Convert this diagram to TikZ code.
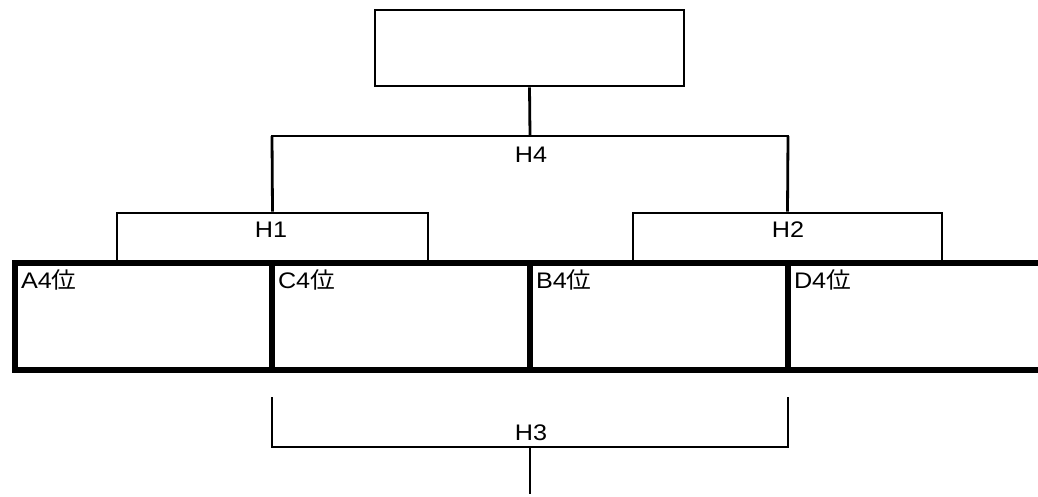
\documentclass[tikz,border=0pt]{standalone}
\usepackage{fontspec}
\setmainfont{Liberation Sans}[FakeStretch=1.12]
\newfontfamily\cjk{Noto Sans CJK JP}[FakeStretch=1.1]
\begin{document}
\begin{tikzpicture}[x=1pt,y=-1pt,
  lnthin/.style={line width=2.8pt},
  lnthick/.style={line width=5.5pt},
  boxst/.style={draw,lnthin,inner sep=0pt},
  lbl/.style={inner sep=0pt,font=\fontsize{22.5}{26}\selectfont},
  cellst/.style={inner sep=0pt,minimum height=107pt},
  celltxt/.style={inner sep=0pt,anchor=base west,font=\fontsize{22.5}{26}\selectfont}]
\useasboundingbox (0,0) rectangle (1038,497);
% top box
\node[boxst,minimum width=309pt,minimum height=76pt] (top) at (529.5,48) {};
% H4 bracket
\coordinate (j4) at (530,136);
\coordinate (j4l) at (272,136);
\coordinate (j4r) at (788,136);
\draw[lnthin] (top.south) -- (j4);
\draw[lnthin,line cap=rect] (j4l) -- (j4r);
\node[lbl] (h4) at (531,155) {H4};
% H1, H2 boxes
\node[boxst,minimum width=311pt,minimum height=50pt] (h1) at (272.5,238) {};
\node[boxst,minimum width=309pt,minimum height=50pt] (h2) at (787.5,238) {};
\draw[lnthin] (j4l) -- (h1.north);
\draw[lnthin] (j4r) -- (h2.north);
\node[lbl] (h1l) at (271,230) {H1};
\node[lbl] (h2l) at (788,230) {H2};
% cells
\node[cellst,minimum width=257pt] (ca) at (143.5,316.5) {};
\node[cellst,minimum width=258pt] (cc) at (401,316.5) {};
\node[cellst,minimum width=258pt] (cb) at (659,316.5) {};
\node[cellst,minimum width=250pt] (cd) at (913,316.5) {};
\coordinate (fl) at (12,263);
\coordinate (fr) at (1038,263);
\coordinate (bl) at (12,370);
\coordinate (br) at (1038,370);
\draw[lnthick] (fl) -- (fr);
\draw[lnthick] (bl) -- (br);
\draw[lnthick] (ca.north west) -- (ca.south west);
\draw[lnthick] (cc.north west) -- (cc.south west);
\draw[lnthick] (cb.north west) -- (cb.south west);
\draw[lnthick] (cd.north west) -- (cd.south west);
\node[celltxt] (ta) at ([xshift=6pt,yshift=-26pt]ca.north west) {A4{\cjk 位}};
\node[celltxt] (tc) at ([xshift=6pt,yshift=-26pt]cc.north west) {C4{\cjk 位}};
\node[celltxt] (tb) at ([xshift=6pt,yshift=-26pt]cb.north west) {B4{\cjk 位}};
\node[celltxt] (td) at ([xshift=6pt,yshift=-26pt]cd.north west) {D4{\cjk 位}};
% H3 bracket
\coordinate (h3lt) at (272,397);
\coordinate (h3lb) at (272,447);
\coordinate (h3rt) at (788,397);
\coordinate (h3rb) at (788,447);
\coordinate (h3m) at (530,447);
\coordinate (h3e) at (530,494);
\draw[lnthin] (h3lt) -- (h3lb) -- (h3rb) -- (h3rt);
\draw[lnthin] (h3m) -- (h3e);
\node[lbl] (h3) at (531,433) {H3};
\end{tikzpicture}
\end{document}
